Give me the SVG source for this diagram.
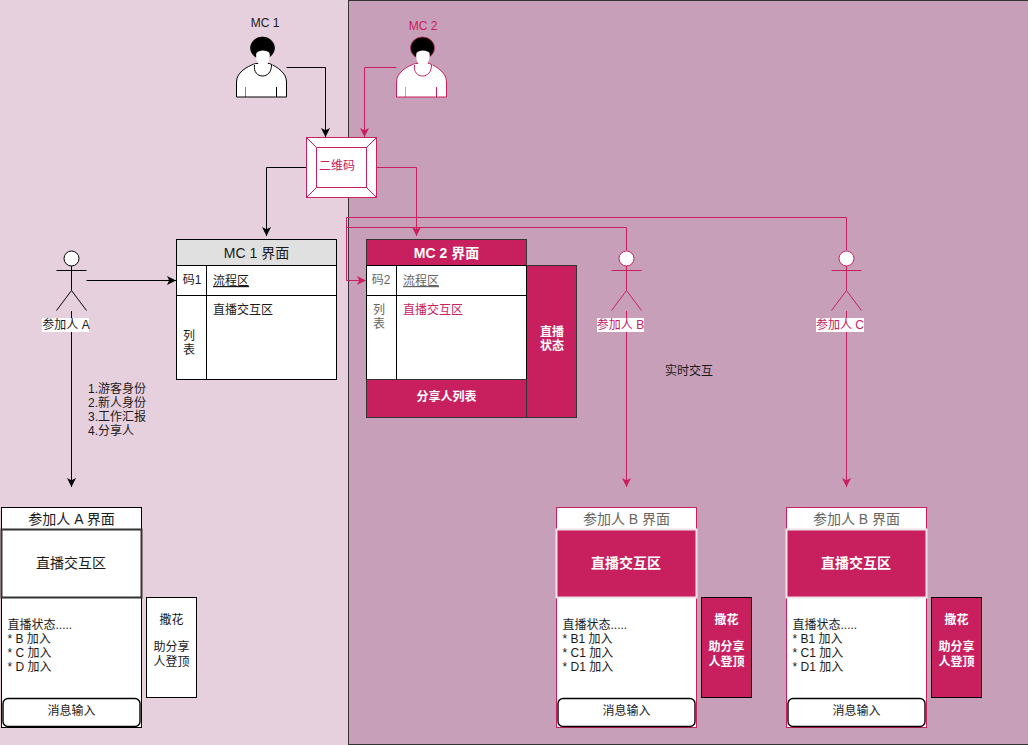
<svg xmlns="http://www.w3.org/2000/svg" width="1028" height="745" viewBox="0 0 1028 745">
<style>
text{font-family:"Liberation Sans","Noto Sans CJK SC",sans-serif;font-size:12px;fill:#1a1a1a}
.m{text-anchor:middle}
.t{font-size:14px}
.b{font-weight:bold;fill:#fff}
.c{fill:#c8205f}
.g{fill:#666}
.w{fill:#fff;stroke:#000}
.wc{fill:#fff;stroke:#c8205f}
.cr{fill:#c8205f;stroke:#333}
.k{stroke:#000;fill:none}
.p{stroke:#c8205f;fill:none}
.conn{fill:none}
.input{fill:#fff;stroke:#000;stroke-width:1.4}
</style>
<defs>
<marker id="ak" markerWidth="9" markerHeight="10" refX="9" refY="4.5" orient="auto" markerUnits="userSpaceOnUse"><path d="M0,0L9,4.5L0,9L2.2,4.5Z" fill="#000"/></marker>
<marker id="ap" markerWidth="9" markerHeight="10" refX="9" refY="4.5" orient="auto" markerUnits="userSpaceOnUse"><path d="M0,0L9,4.5L0,9L2.2,4.5Z" fill="#c8205f"/></marker>
<g id="person">
<path d="M0,60V45C0,36 9,30 19,26.5H33C41,30 50,36 50,45V60Z" fill="#fff" stroke="currentColor"/>
<ellipse cx="26" cy="11" rx="12" ry="11" fill="#000" stroke="currentColor" stroke-width=".7"/>
<path d="M20,16C22,12.500 31,12.500 33,16C34,21 32,24 31,26C33,29 36,28 36,27C36,35 31,39 26,39C21,39 17,35 17,27C18,28 20,29 22,26C20,24 19,20 20,16Z" fill="#fff" stroke="none"/>
<path d="M18,28C17,35 21,39 26,39C31,39 35,35 35,28" fill="none" stroke="currentColor"/>
<path d="M9,50V60" stroke="currentColor" opacity=".5"/><path d="M40,50V60" stroke="currentColor"/>
</g>
<g id="stick">
<circle cx="0" cy="258.500" r="7.500" fill="#fff" stroke="currentColor"/>
<path d="M0,266V290M-15,270.500H15M-15,310.500L0,290.500L15,310.500" fill="none" stroke="currentColor"/>
</g>
</defs>
<rect id="bg-left" x="0" y="0" width="1028" height="745" fill="#e6d0de"/>
<rect id="bg-right" x="348.5" y="0.5" width="680" height="744" fill="#c89fb9" stroke="#333"/>

<g id="connectors" class="conn">
<path class="k" d="M286.5,67.500H325.500V137" marker-end="url(#ak)"/>
<path class="p" d="M396.5,67.500H364.500V137" marker-end="url(#ap)"/>
<path class="k" d="M306.5,167.500H266.500V236" marker-end="url(#ak)"/>
<path class="p" d="M376.5,167.500H416.500V236" marker-end="url(#ap)"/>
<path class="k" d="M86.500,280.500H176" marker-end="url(#ak)"/>
<path class="k" d="M71.500,311V487" marker-end="url(#ak)"/>
<path class="p" d="M626.500,250V227.500H346.500M846.500,250V217.500H346.500V280.500H366" marker-end="url(#ap)"/>
<path class="p" d="M626.500,311V487" marker-end="url(#ap)"/>
<path class="p" d="M846.500,311V487" marker-end="url(#ap)"/>
</g>

<g id="mc1"><use href="#person" x="236.5" y="37" color="#000"/><text class="m" x="265" y="27">MC 1</text></g>
<g id="mc2"><use href="#person" x="396.5" y="37" color="#c8205f"/><text class="m c" x="423" y="30">MC 2</text></g>

<g id="qrcode">
<rect class="wc" x="306.5" y="137.5" width="70" height="60"/>
<rect class="wc" x="316.5" y="147.5" width="50" height="40"/>
<path class="p" d="M306.5,137.500L316.500,147.500M376.500,137.500L366.500,147.500M306.500,197.500L316.500,187.500M376.500,197.500L366.500,187.500"/>
<text class="m c" x="337" y="170">二维码</text>
</g>

<g id="mc1-screen">
<rect x="176.5" y="239.5" width="160" height="26" fill="#e0e0e0" stroke="#000"/>
<rect class="w" x="176.5" y="265.5" width="160" height="114"/>
<path class="k" d="M176.500,295.500H336.500M206.500,265.500V379.500"/>
<text class="m t" x="256.5" y="257.500">MC 1 界面</text>
<text class="m" x="192" y="284">码1</text>
<text x="213" y="285" text-decoration="underline">流程区</text>
<text x="213" y="314">直播交互区</text>
<text x="183" y="340">列</text><text x="183" y="354">表</text>
</g>

<g id="mc2-screen">
<rect class="cr" x="526.5" y="265.5" width="50" height="152"/>
<rect class="cr" x="366.5" y="239.5" width="160" height="26"/>
<rect class="w" x="366.5" y="265.5" width="160" height="114"/>
<rect class="cr" x="366.5" y="379.5" width="160" height="38"/>
<path class="k" d="M366.500,295.500H526.500M396.500,265.500V379.500"/>
<text class="m t b" x="446.5" y="258">MC 2 界面</text>
<text class="m g" x="381" y="284">码2</text>
<text class="g" x="403" y="285" text-decoration="underline">流程区</text>
<text class="c" x="403" y="314">直播交互区</text>
<text class="g" x="373" y="314">列</text><text class="g" x="373" y="328">表</text>
<text class="m b" x="552" y="336">直播</text><text class="m b" x="552" y="350">状态</text>
<text class="m b" x="446.5" y="401">分享人列表</text>
</g>

<g id="actor-a">
<use href="#stick" x="71.5" color="#000"/>
<rect x="42" y="318" width="47" height="14" fill="#fff"/>
<text class="m" x="66" y="329">参加人 A</text>
</g>
<g id="actor-b">
<use href="#stick" x="626.5" color="#c8205f"/>
<rect x="597" y="318" width="47" height="14" fill="#fff"/>
<text class="m c" x="620.5" y="329">参加人 B</text>
</g>
<g id="actor-c">
<use href="#stick" x="846.5" color="#c8205f"/>
<rect x="816" y="318" width="48" height="14" fill="#fff"/>
<text class="m c" x="840" y="329">参加人 C</text>
</g>

<g id="label-roles">
<text x="88" y="393">1.游客身份</text><text x="88" y="407">2.新人身份</text><text x="88" y="421">3.工作汇报</text><text x="88" y="435">4.分享人</text>
</g>
<g id="label-live"><text class="m" x="689" y="375">实时交互</text></g>

<g id="screen-a">
<rect class="w" x="1.5" y="507.5" width="140" height="220"/>
<rect x="1.5" y="529.5" width="140" height="68" fill="#fff" stroke="#333" stroke-width="2"/>
<rect class="input" x="3" y="698.5" width="137" height="28" rx="5"/>
<text class="m t" x="71.5" y="524">参加人 A 界面</text>
<text class="m t" x="71" y="568">直播交互区</text>
<text x="7.500" y="629">直播状态.....</text><text x="7.500" y="643">* B 加入</text><text x="7.500" y="657">* C 加入</text><text x="7.500" y="671">* D 加入</text>
<text class="m" x="71.5" y="715">消息输入</text>
</g>
<g id="side-a">
<rect class="w" x="146.5" y="597.5" width="50" height="100"/>
<text class="m" x="171.5" y="624">撒花</text><text class="m" x="171.5" y="651">助分享</text><text class="m" x="171.5" y="666">人登顶</text>
</g>

<g id="screen-b">
<rect class="wc" x="556.5" y="507.5" width="140" height="220"/>
<rect x="556.5" y="529.5" width="140" height="68" fill="#c8205f" stroke="#efe3ea" stroke-width="2"/>
<rect class="input" x="558" y="698.5" width="137" height="28" rx="5"/>
<text class="m t g" x="626.5" y="524">参加人 B 界面</text>
<text class="m t b" x="626" y="568">直播交互区</text>
<text x="562.500" y="629">直播状态.....</text><text x="562.500" y="643">* B1 加入</text><text x="562.500" y="657">* C1 加入</text><text x="562.500" y="671">* D1 加入</text>
<text class="m" x="626.5" y="715">消息输入</text>
</g>
<g id="side-b">
<rect x="701.5" y="597.5" width="50" height="100" fill="#c8205f" stroke="#000"/>
<text class="m b" x="726.5" y="624">撒花</text><text class="m b" x="726.5" y="651">助分享</text><text class="m b" x="726.5" y="666">人登顶</text>
</g>

<g id="screen-c">
<rect class="wc" x="786.5" y="507.5" width="140" height="220"/>
<rect x="786.5" y="529.5" width="140" height="68" fill="#c8205f" stroke="#efe3ea" stroke-width="2"/>
<rect class="input" x="788" y="698.5" width="137" height="28" rx="5"/>
<text class="m t g" x="856.5" y="524">参加人 B 界面</text>
<text class="m t b" x="856" y="568">直播交互区</text>
<text x="792.500" y="629">直播状态.....</text><text x="792.500" y="643">* B1 加入</text><text x="792.500" y="657">* C1 加入</text><text x="792.500" y="671">* D1 加入</text>
<text class="m" x="856.5" y="715">消息输入</text>
</g>
<g id="side-c">
<rect x="931.5" y="597.5" width="50" height="100" fill="#c8205f" stroke="#000"/>
<text class="m b" x="956.5" y="624">撒花</text><text class="m b" x="956.5" y="651">助分享</text><text class="m b" x="956.5" y="666">人登顶</text>
</g>
</svg>
